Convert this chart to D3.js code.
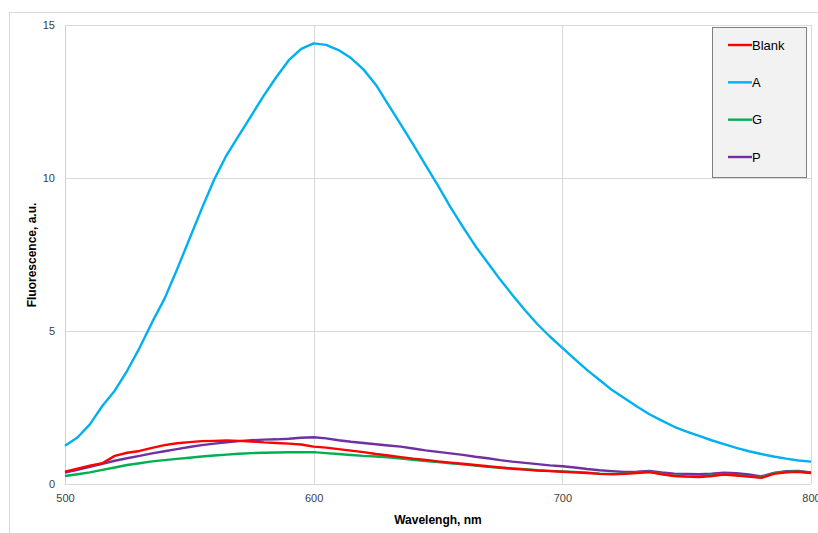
<!DOCTYPE html>
<html>
<head>
<meta charset="utf-8">
<script src="https://cdn.jsdelivr.net/npm/d3@7"></script>
<style>
  body { margin: 0; background: #fff; }
  svg { display: block; font-family: "Liberation Sans", "DejaVu Sans", sans-serif; }
</style>
</head>
<body>
<svg width="818" height="533"></svg>
<script>
// wavelength grid, nm
var wavelength = d3.range(500, 801, 5);

// values
var blank = [0.40,0.50,0.60,0.68,0.92,1.02,1.08,1.18,1.27,1.33,1.37,1.40,1.41,1.42,1.41,1.39,1.36,1.34,1.32,1.29,
             1.22,1.19,1.14,1.09,1.04,0.98,0.93,0.88,0.83,0.79,0.74,0.70,0.66,0.62,0.58,0.54,0.50,0.47,0.44,0.42,
             0.40,0.38,0.36,0.33,0.32,0.33,0.36,0.39,0.32,0.26,0.24,0.23,0.26,0.31,0.28,0.24,0.20,0.33,0.38,0.40,0.36];
var seriesA = [1.25,1.52,1.95,2.55,3.05,3.70,4.45,5.28,6.05,7.00,8.00,9.00,9.95,10.75,11.40,12.05,12.70,13.30,13.85,14.22,
             14.40,14.35,14.18,13.92,13.55,13.05,12.40,11.75,11.10,10.42,9.75,9.05,8.40,7.78,7.23,6.68,6.17,5.68,5.22,4.82,
             4.45,4.08,3.72,3.40,3.07,2.80,2.53,2.28,2.07,1.87,1.71,1.57,1.43,1.30,1.18,1.07,0.98,0.90,0.83,0.77,0.73];
var seriesG = [0.26,0.32,0.38,0.46,0.54,0.62,0.68,0.74,0.78,0.82,0.86,0.90,0.93,0.96,0.99,1.01,1.02,1.03,1.04,1.04,
             1.04,1.01,0.98,0.95,0.92,0.90,0.87,0.83,0.79,0.75,0.72,0.68,0.64,0.60,0.56,0.53,0.51,0.48,0.45,0.43,
             0.41,0.39,0.37,0.34,0.33,0.34,0.37,0.40,0.33,0.27,0.25,0.25,0.28,0.32,0.29,0.25,0.22,0.35,0.39,0.41,0.36];
var seriesP = [0.37,0.46,0.56,0.66,0.76,0.84,0.92,1.00,1.07,1.14,1.21,1.27,1.32,1.36,1.40,1.43,1.45,1.46,1.48,1.51,
             1.53,1.49,1.43,1.38,1.34,1.30,1.26,1.22,1.16,1.10,1.05,1.00,0.95,0.89,0.84,0.78,0.73,0.69,0.65,0.61,
             0.58,0.54,0.49,0.45,0.42,0.39,0.40,0.43,0.38,0.34,0.33,0.32,0.34,0.37,0.35,0.31,0.25,0.36,0.42,0.43,0.38];

var seriesNames = ["Blank", "A", "G", "P"];
var seriesColors = ["#ff0000", "#00b0f0", "#00b050", "#7030a0"];
var seriesValues = [blank, seriesA, seriesG, seriesP];

var xTicks = [500, 600, 700, 800];
var yTicks = [0, 5, 10, 15];

var svg = d3.select("svg"),
    margin = { top: 25, right: 7, bottom: 49, left: 65 },
    width = +svg.attr("width") - margin.left - margin.right,
    height = +svg.attr("height") - margin.top - margin.bottom;

// outer chart frame
svg.append("rect")
    .attr("x", 9.5).attr("y", 12.5)
    .attr("width", 830).attr("height", 540)
    .attr("fill", "none")
    .attr("stroke", "#d9d9d9");

var x = d3.scaleLinear().domain([500, 800]).range([0, width]);
var y = d3.scaleLinear().domain([0, 15]).range([height, 0]);

var g = svg.append("g")
    .attr("transform", "translate(" + margin.left + "," + margin.top + ")");

// gridlines
g.append("g")
    .selectAll("line.vgrid")
    .data(xTicks)
    .enter().append("line")
    .attr("x1", function (d) { return Math.round(x(d)) + 0.5; })
    .attr("x2", function (d) { return Math.round(x(d)) + 0.5; })
    .attr("y1", 0).attr("y2", height)
    .attr("stroke", "#d9d9d9");

g.append("g")
    .selectAll("line.hgrid")
    .data(yTicks)
    .enter().append("line")
    .attr("y1", function (d) { return Math.round(y(d)) + 0.5; })
    .attr("y2", function (d) { return Math.round(y(d)) + 0.5; })
    .attr("x1", 0).attr("x2", width)
    .attr("stroke", "#d9d9d9");

g.append("line")
    .attr("x1", 0.5).attr("x2", 0.5)
    .attr("y1", 0).attr("y2", height)
    .attr("stroke", "#d0d0d0");

// axes (labels only, Excel style)
var xAxis = d3.axisBottom(x).tickValues(xTicks).tickSize(0).tickPadding(10);
var yAxis = d3.axisLeft(y).tickValues(yTicks).tickSize(0).tickPadding(10);

var gx = g.append("g")
    .attr("transform", "translate(0," + height + ")")
    .call(xAxis);
var gy = g.append("g").call(yAxis);
[gx, gy].forEach(function (a) {
    a.select(".domain").remove();
    a.selectAll("text")
        .style("font-size", "11px")
        .style("fill", "#404040")
        .style("font-family", "Liberation Sans, sans-serif");
});

// lines
var line = d3.line()
    .x(function (d, i) { return x(wavelength[i]); })
    .y(function (d) { return y(d); });

// draw order: A, P, G, Blank so that red sits on top like in the picture
[1, 3, 2, 0].forEach(function (k) {
    g.append("path")
        .datum(seriesValues[k])
        .attr("fill", "none")
        .attr("stroke", seriesColors[k])
        .attr("stroke-width", 2.4)
        .attr("stroke-linejoin", "round")
        .attr("d", line);
});

// legend
var legend = svg.append("g");
legend.append("rect")
    .attr("x", 712.5).attr("y", 27.5)
    .attr("width", 94).attr("height", 150)
    .attr("fill", "#f2f2f2")
    .attr("stroke", "#808080");

var ly = d3.scalePoint().domain(seriesNames).range([45, 157]);
seriesNames.forEach(function (n, i) {
    legend.append("line")
        .attr("x1", 728).attr("x2", 752)
        .attr("y1", ly(n)).attr("y2", ly(n))
        .attr("stroke", seriesColors[i])
        .attr("stroke-width", 2.4);
    legend.append("text")
        .attr("x", 752).attr("y", ly(n))
        .attr("dy", "0.35em")
        .style("font-size", "13px")
        .style("fill", "#000")
        .text(n);
});

// axis titles
svg.append("text")
    .attr("x", margin.left + width / 2)
    .attr("y", 524)
    .attr("text-anchor", "middle")
    .style("font-size", "12px")
    .style("font-weight", "bold")
    .text("Wavelengh, nm");

svg.append("text")
    .attr("transform", "translate(36,255) rotate(-90)")
    .attr("text-anchor", "middle")
    .style("font-size", "12px")
    .style("font-weight", "bold")
    .text("Fluorescence, a.u.");
</script>
</body>
</html>
